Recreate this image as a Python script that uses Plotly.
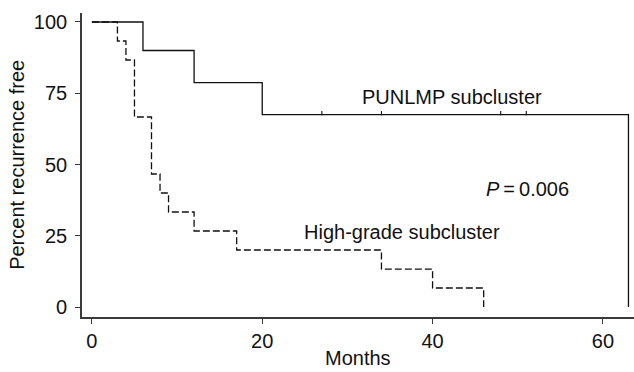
import plotly.graph_objects as go

# Kaplan-Meier step data (months, percent recurrence free)
pun_months = [0, 6, 12, 20, 63]
pun_surv = [100, 90, 78.75, 67.5, 0]
pun_censor_months = [27, 34, 48, 51]
pun_censor_surv = [67.5, 67.5, 67.5, 67.5]

hg_months = [0, 3, 4, 5, 7, 8, 9, 12, 17, 34, 40, 46]
hg_surv = [100, 93.33, 86.67, 66.67, 46.67, 40, 33.33, 26.67, 20, 13.33, 6.67, 0]

x_ticks = [0, 20, 40, 60]
y_ticks = [0, 25, 50, 75, 100]

FONT = "Liberation Sans, Arial, Helvetica, sans-serif"
FS = 20
AX = "#3a3a3a"

fig = go.Figure()
fig.add_trace(go.Scatter(x=hg_months, y=hg_surv, mode="lines", line_shape="hv",
                         line=dict(color="#111111", width=1.3, dash="7px,3px"),
                         showlegend=False, hoverinfo="skip"))
fig.add_trace(go.Scatter(x=pun_months, y=pun_surv, mode="lines", line_shape="hv",
                         line=dict(color="#111111", width=1.3),
                         showlegend=False, hoverinfo="skip"))
fig.add_trace(go.Scatter(x=pun_censor_months, y=[v + 0.5 for v in pun_censor_surv], mode="markers",
                         marker=dict(symbol="line-ns", size=3, line=dict(color="#111111", width=1.1)),
                         showlegend=False, hoverinfo="skip"))

fig.update_layout(
    width=634, height=372,
    margin=dict(l=82, r=0, t=13, b=55),
    paper_bgcolor="white", plot_bgcolor="white",
    font=dict(family=FONT, size=FS, color="#111111"),
    xaxis=dict(range=[-1.16, 63.65], tickvals=x_ticks, ticktext=[str(v) for v in x_ticks],
               showgrid=False, zeroline=False, showline=True, linecolor=AX, linewidth=1.6,
               ticks="outside", ticklen=5, tickwidth=1.2, tickcolor=AX,
               tickfont=dict(family=FONT, size=FS, color="#111111")),
    yaxis=dict(range=[-3.5, 103.15], tickvals=y_ticks, ticktext=[str(v) for v in y_ticks],
               showgrid=False, zeroline=False, showline=True, linecolor=AX, linewidth=1.6,
               ticks="outside", ticklen=5, tickwidth=1.2, tickcolor=AX, ticklabelstandoff=4,
               tickfont=dict(family=FONT, size=FS, color="#111111")),
    annotations=[
        dict(text="Months", xref="paper", yref="paper", x=(358 - 82) / 552, y=-0.135,
             xanchor="center", yanchor="middle", showarrow=False,
             font=dict(family=FONT, size=FS, color="#111111")),
        dict(text="Percent recurrence free", xref="paper", yref="paper", x=-0.118, y=0.5,
             xanchor="center", yanchor="middle", textangle=-90, showarrow=False,
             font=dict(family=FONT, size=FS, color="#111111")),
        dict(text="PUNLMP subcluster", xref="x", yref="y", x=31.5, y=73.6,
             xanchor="left", yanchor="middle", showarrow=False,
             font=dict(family=FONT, size=FS, color="#111111")),
        dict(text="High-grade subcluster", xref="x", yref="y", x=24.7, y=26.4,
             xanchor="left", yanchor="middle", showarrow=False,
             font=dict(family=FONT, size=FS, color="#111111")),
        dict(text="<i>P</i>\u2009=\u20090.006", xref="x", yref="y", x=46.0, y=41.4,
             xanchor="left", yanchor="middle", showarrow=False,
             font=dict(family=FONT, size=FS, color="#111111")),
    ],
)

fig.write_html("out.html")
